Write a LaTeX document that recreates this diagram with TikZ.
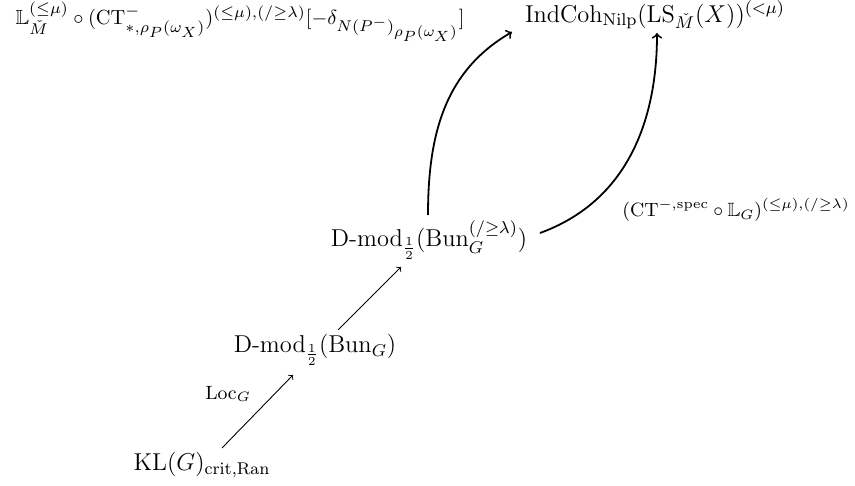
\documentclass[tikz,border=0pt]{standalone}
\usepackage{fix-cm}
\usepackage{amsmath,amssymb}
\DeclareMathSizes{9.6}{9.6}{6.8}{6.2}
\DeclareMathSizes{10.2}{10.2}{7.8}{7.4}
\begin{document}
\begin{tikzpicture}[x=0.5pt,y=-0.5pt,
  obj/.style={inner sep=2pt,font=\fontsize{12.2}{14}\selectfont},
  lab/.style={inner sep=1pt,font=\fontsize{9.6}{11}\selectfont},
  widelab/.style={inner sep=1pt,font=\fontsize{10.2}{12}\selectfont},
  thinarr/.style={->,line width=0.45pt},
  curvarr/.style={->,line width=0.9pt}]
\useasboundingbox (0,0) rectangle (855,486);
\node[obj] (kl) at (202,465) {$\mathrm{KL}(G)_{\mathrm{crit},\mathrm{Ran}}$};
\node[obj] (dm) at (315,350) {$\text{D-mod}_{\frac12}(\mathrm{Bun}_G)$};
\node[obj] (dl) at (429,240) {$\text{D-mod}_{\frac12}(\mathrm{Bun}_G^{(/\geq\lambda)})$};
\node[obj] (ic) at (655,15) {$\mathrm{IndCoh}_{\mathrm{Nilp}}(\mathrm{LS}_{\check M}(X))^{(<\mu)}$};
\node[lab] (loc) at (228,394) {$\mathrm{Loc}_G$};
\node[widelab] (lt) at (240,22) {$\mathbb{L}_{\check M}^{(\leq\mu)}\circ(\mathrm{CT}^{-}_{*,\rho_P(\omega_X)})^{(\leq\mu),(/\geq\lambda)}[-\delta_{N(P^-)_{\rho_P(\omega_X)}}]$};
\node[lab] (rt) at (736,210) {$(\mathrm{CT}^{-,\mathrm{spec}}\circ\mathbb{L}_G)^{(\leq\mu),(/\geq\lambda)}$};
\draw[thinarr] ([shift={(20,-17)}]kl.center) -- ([shift={(-22,25)}]dm.center);
\draw[thinarr] ([shift={(23,-20)}]dm.center) -- ([shift={(-28,27)}]dl.center);
\draw[curvarr] ([shift={(-1,-25)}]dl.center) to[out=90,in=210] ([shift={(-143,17)}]ic.center);
\draw[curvarr] ([shift={(111,-7)}]dl.center) to[out=20,in=-90] ([shift={(2,18)}]ic.center);
\end{tikzpicture}
\end{document}
